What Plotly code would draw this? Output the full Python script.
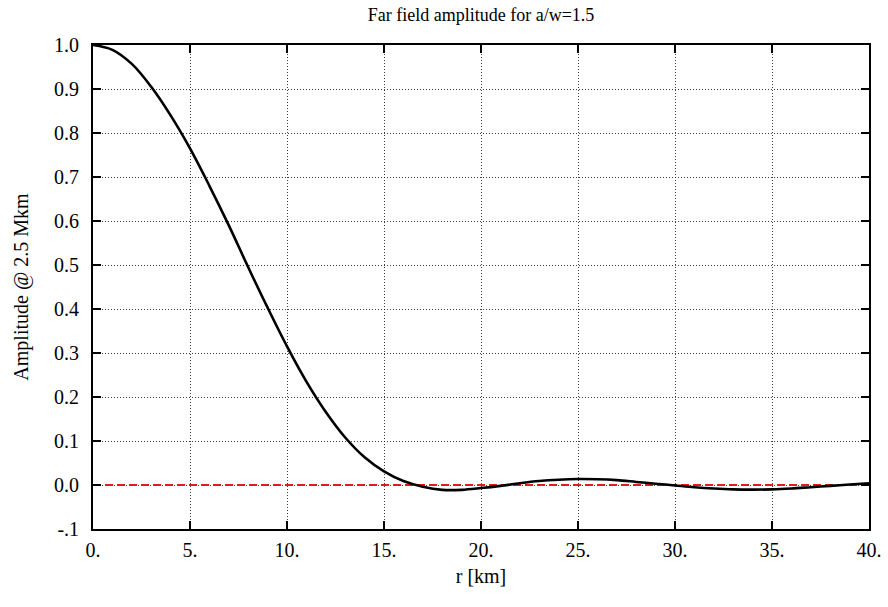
import plotly.graph_objects as go

r_km = list(range(0, 41))
amplitude = [1.000, 0.989, 0.957, 0.905, 0.840, 0.765, 0.680, 0.590, 0.495, 0.403,
             0.315, 0.235, 0.166, 0.108, 0.063, 0.031, 0.009, -0.004, -0.011, -0.011,
             -0.007, -0.002, 0.004, 0.009, 0.012, 0.0135, 0.013, 0.011, 0.007, 0.003,
             -0.001, -0.005, -0.008, -0.010, -0.0105, -0.010, -0.008, -0.005, -0.002, 0.001,
             0.004]

x_ticks = [0, 5, 10, 15, 20, 25, 30, 35, 40]
x_ticklabels = ["0.", "5.", "10.", "15.", "20.", "25.", "30.", "35.", "40."]
y_ticks = [-0.1, 0.0, 0.1, 0.2, 0.3, 0.4, 0.5, 0.6, 0.7, 0.8, 0.9, 1.0]
y_ticklabels = ["-.1", "0.0", "0.1", "0.2", "0.3", "0.4", "0.5", "0.6", "0.7", "0.8", "0.9", "1.0"]

font = "Liberation Serif, Times New Roman, serif"

fig = go.Figure()
fig.add_trace(go.Scatter(x=[0, 40], y=[0, 0], mode="lines",
                         line=dict(color="#e8191c", width=2, dash="8px,4px"),
                         hoverinfo="skip", showlegend=False))
fig.add_trace(go.Scatter(x=r_km, y=amplitude, mode="lines",
                         line=dict(color="black", width=2.6, shape="spline", smoothing=1.0),
                         showlegend=False))

axis_common = dict(
    showline=True, linecolor="black", linewidth=1.8, mirror="ticks",
    ticks="inside", ticklen=8, tickwidth=1.5, tickcolor="black",
    showgrid=True, gridcolor="rgba(0,0,0,0.75)", gridwidth=1, griddash="1px,2px",
    zeroline=False, automargin=False,
    tickfont=dict(family=font, size=20, color="black"),
)

fig.update_xaxes(range=[0, 40], tickmode="array", tickvals=x_ticks, ticktext=x_ticklabels,
                 title=dict(text="r [km]", font=dict(family=font, size=20, color="black"), standoff=9),
                 ticklabelstandoff=2, **axis_common)
fig.update_yaxes(range=[-0.1, 1.0], tickmode="array", tickvals=y_ticks, ticktext=y_ticklabels,
                 title=dict(text="Amplitude @ 2.5 Mkm", font=dict(family=font, size=20, color="black"), standoff=20),
                 ticklabelstandoff=8, **axis_common)

fig.update_layout(
    width=888, height=607,
    margin=dict(l=93, r=19, t=45, b=78),
    paper_bgcolor="white", plot_bgcolor="white",
    title=dict(text="Far field amplitude for a/w=1.5", x=(93 + 388) / 888, xanchor="center",
               y=1 - 15 / 607, yanchor="middle",
               font=dict(family=font, size=18, color="black")),
)

fig.write_html("out.html", config={"displayModeBar": False},
               post_script="document.body.style.margin='0';document.body.style.overflow='hidden';")
